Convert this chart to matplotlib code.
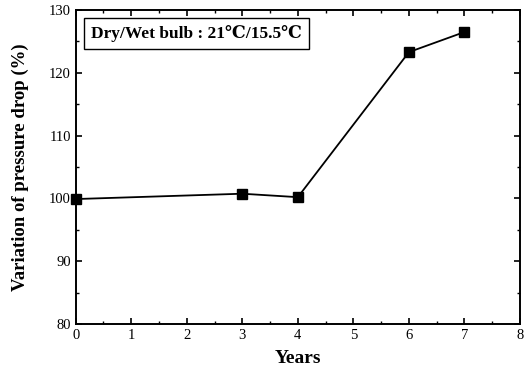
import matplotlib
matplotlib.use("Agg")
import matplotlib.pyplot as plt
from matplotlib.ticker import MultipleLocator

years = [0, 3, 4, 6, 7]
pressure_drop = [99.9, 100.75, 100.2, 123.3, 126.5]

plt.rcParams["font.family"] = ["Liberation Serif", "DejaVu Serif"]

fig = plt.figure(figsize=(5.29, 3.72), dpi=100)
ax = fig.add_axes([0.143, 0.129, 0.84, 0.844])

ax.plot(years, pressure_drop, "k-", marker="s", markersize=7.5, linewidth=1.3, clip_on=False)

ax.set_xlim(0, 8)
ax.set_ylim(80, 130)
ax.xaxis.set_major_locator(MultipleLocator(1))
ax.xaxis.set_minor_locator(MultipleLocator(0.5))
ax.yaxis.set_major_locator(MultipleLocator(10))
ax.yaxis.set_minor_locator(MultipleLocator(5))
ax.tick_params(which="both", direction="in", top=True, right=True, labelsize=10.5)
ax.tick_params(which="major", length=4, width=1.2)
ax.tick_params(which="minor", length=2.5, width=1)
for s in ax.spines.values():
    s.set_linewidth(1.4)

ax.set_xlabel("Years", fontsize=14, fontweight="bold", labelpad=6)
ax.set_ylabel("Variation of pressure drop (%)", fontsize=13.5, fontweight="bold", labelpad=14)

ax.text(0.034, 0.924, "Dry/Wet bulb : 21\u2103/15.5\u2103", transform=ax.transAxes,
        fontsize=12.5, fontweight="bold", va="center", ha="left",
        bbox=dict(boxstyle="square,pad=0.4", facecolor="white", edgecolor="black", linewidth=1))

fig.savefig("out.png", dpi=100)
